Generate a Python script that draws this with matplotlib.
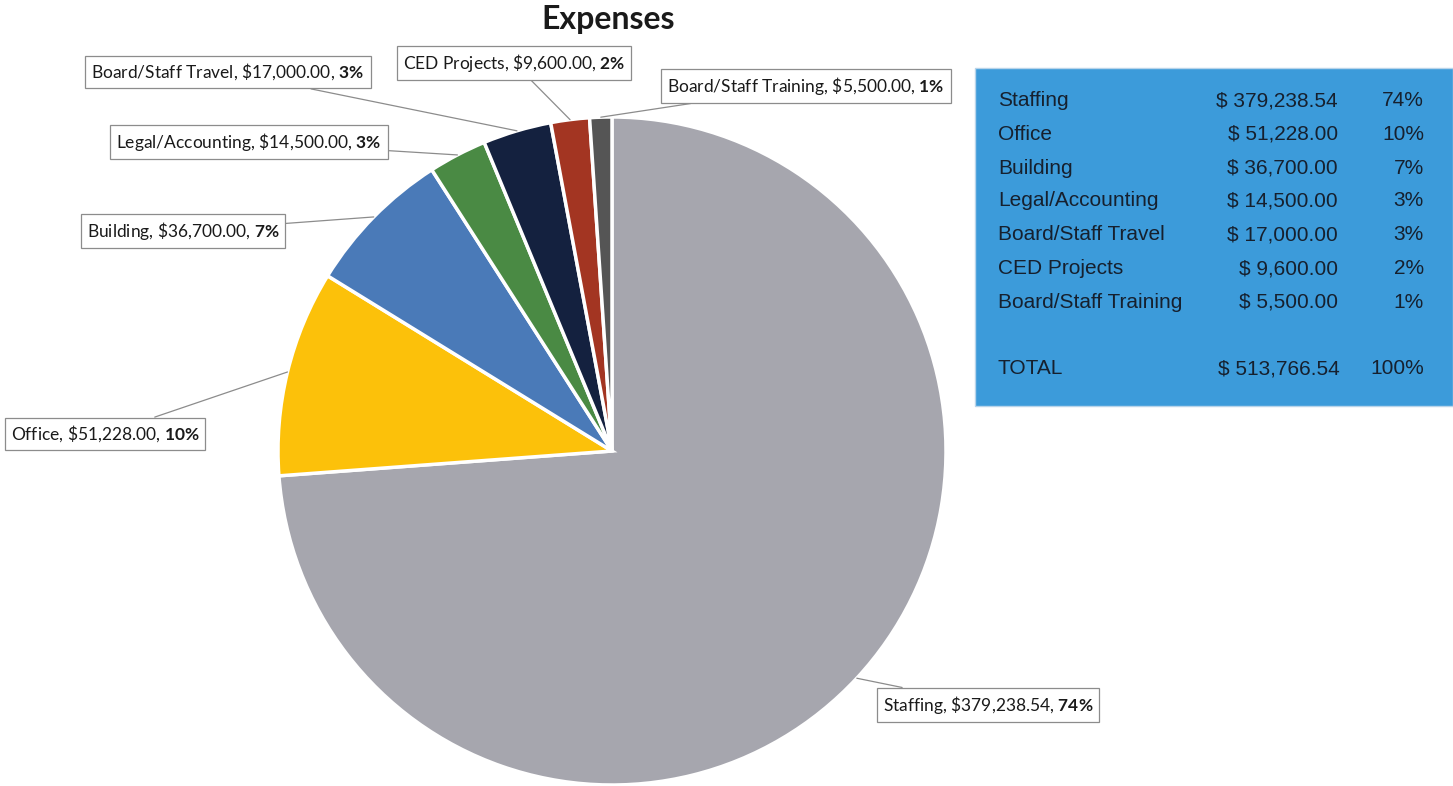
import numpy as np
import matplotlib.pyplot as plt

plt.rcParams['font.family'] = ['Lato', 'DejaVu Sans']
plt.rcParams['mathtext.fontset'] = 'custom'
plt.rcParams['mathtext.rm'] = 'Lato'
plt.rcParams['mathtext.bf'] = 'Lato:bold'

# data
categories = ['Staffing', 'Office', 'Building', 'Legal/Accounting',
              'Board/Staff Travel', 'CED Projects', 'Board/Staff Training']
amounts = [379238.54, 51228.00, 36700.00, 14500.00, 17000.00, 9600.00, 5500.00]
percents = ['74%', '10%', '7%', '3%', '3%', '2%', '1%']
total_label = 'TOTAL'
total_amount = 513766.54
total_percent = '100%'

colors = ['#a6a6ae', '#fcc10a', '#4a7ab8', '#4a8a44', '#14213f', '#a33522', '#555555']

W, H = 1453, 786
fig = plt.figure(figsize=(W / 100, H / 100), dpi=100)
ax = fig.add_axes([0, 0, 1, 1])
ax.set_xlim(0, W)
ax.set_ylim(0, H)
ax.set_aspect('equal')
ax.axis('off')

cx, cy, r = 612, H - 451, 334
wedges, _ = ax.pie(amounts, colors=colors, startangle=90, counterclock=False,
                   center=(cx, cy), radius=r,
                   wedgeprops=dict(edgecolor='white', linewidth=2.5))
ax.set_xlim(0, W)
ax.set_ylim(0, H)

fig.text(608 / W, 1 - 20 / H, 'Expenses', ha='center', va='center',
         fontsize=23, fontweight='bold', color='#1a1a1a')

# label box centres (pixel coords, y from top)
label_pos = [(988, 705), (105, 434), (183, 231), (249, 142),
             (228, 72), (514, 63), (806, 86)]

for w, name, amt, pct, (tx, ty) in zip(wedges, categories, amounts, percents, label_pos):
    mid = np.deg2rad((w.theta1 + w.theta2) / 2)
    px = cx + r * np.cos(mid)
    py = cy + r * np.sin(mid)
    txt = name + r', \$' + f'{amt:,.2f}' + r', $\mathbf{' + pct.replace('%', r'\%') + '}$'
    ax.annotate(txt, xy=(px, py), xytext=(tx, H - ty), ha='center', va='center',
                fontsize=12.5, color='#1a1a1a',
                bbox=dict(boxstyle='square,pad=0.35', fc='white', ec='#8c8c8c', lw=0.9),
                arrowprops=dict(arrowstyle='-', color='#8c8c8c', lw=0.9,
                                shrinkA=0, shrinkB=0))

# summary table on the right
ax.add_patch(plt.Rectangle((975, H - 406), 478, 338, fc='#3c9bda', ec='#b8d4ea', lw=1))
row_y = [101, 134, 168, 201, 235, 269, 302]
tcol = '#16202e'
fs = 15
for name, amt, pct, y in zip(categories, amounts, percents, row_y):
    ax.text(998, H - y, name, fontsize=fs, family='Liberation Sans', color=tcol, va='center')
    ax.text(1338, H - y, f'$ {amt:,.2f}', fontsize=fs, family='Liberation Sans',
            color=tcol, va='center', ha='right')
    ax.text(1424, H - y, pct, fontsize=fs, family='Liberation Sans',
            color=tcol, va='center', ha='right')
ax.text(998, H - 369, total_label, fontsize=fs, family='Liberation Sans', color=tcol, va='center')
ax.text(1340, H - 369, f'$ {total_amount:,.2f}', fontsize=fs, family='Liberation Sans',
        color=tcol, va='center', ha='right')
ax.text(1424, H - 369, total_percent, fontsize=fs, family='Liberation Sans',
        color=tcol, va='center', ha='right')

fig.savefig('out.png', dpi=100, facecolor='white')
